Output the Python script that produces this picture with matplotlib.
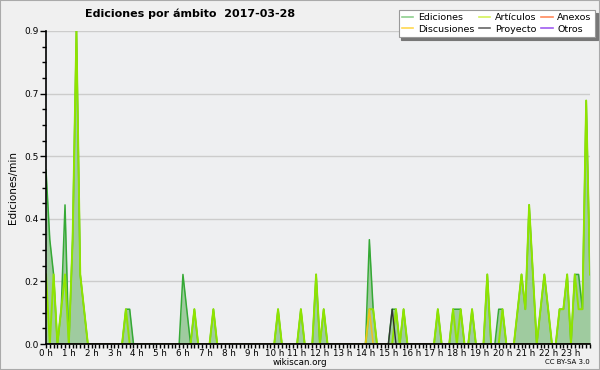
import matplotlib
matplotlib.use("Agg")
import matplotlib.pyplot as plt
from matplotlib.lines import Line2D
import numpy as np

# 10-minute bins (edits per minute)
ediciones = [
    0.5, 0.3, 0.2, 0.0, 0.1, 0.4,   # 0 h
    0.0, 0.3, 0.9, 0.2, 0.1, 0.0,   # 1 h
    0.0, 0.0, 0.0, 0.0, 0.0, 0.0,   # 2 h
    0.0, 0.0, 0.0, 0.1, 0.1, 0.0,   # 3 h
    0.0, 0.0, 0.0, 0.0, 0.0, 0.0,   # 4 h
    0.0, 0.0, 0.0, 0.0, 0.0, 0.0,   # 5 h
    0.2, 0.1, 0.0, 0.1, 0.0, 0.0,   # 6 h
    0.0, 0.0, 0.1, 0.0, 0.0, 0.0,   # 7 h
    0.0, 0.0, 0.0, 0.0, 0.0, 0.0,   # 8 h
    0.0, 0.0, 0.0, 0.0, 0.0, 0.0,   # 9 h
    0.0, 0.1, 0.0, 0.0, 0.0, 0.0,   # 10 h
    0.0, 0.1, 0.0, 0.0, 0.0, 0.2,   # 11 h
    0.0, 0.1, 0.0, 0.0, 0.0, 0.0,   # 12 h
    0.0, 0.0, 0.0, 0.0, 0.0, 0.0,   # 13 h
    0.0, 0.3, 0.1, 0.0, 0.0, 0.0,   # 14 h
    0.0, 0.1, 0.1, 0.0, 0.1, 0.0,   # 15 h
    0.0, 0.0, 0.0, 0.0, 0.0, 0.0,   # 16 h
    0.0, 0.1, 0.0, 0.0, 0.0, 0.1,   # 17 h
    0.1, 0.1, 0.0, 0.0, 0.1, 0.0,   # 18 h
    0.0, 0.0, 0.2, 0.0, 0.0, 0.1,   # 19 h
    0.1, 0.0, 0.0, 0.0, 0.1, 0.2,   # 20 h
    0.1, 0.4, 0.2, 0.0, 0.1, 0.2,   # 21 h
    0.1, 0.0, 0.0, 0.1, 0.1, 0.2,   # 22 h
    0.0, 0.2, 0.2, 0.1, 0.7, 0.2,   # 23 h
]
articulos = [
    0.2, 0.0, 0.2, 0.0, 0.1, 0.2,
    0.0, 0.3, 0.9, 0.2, 0.1, 0.0,
    0.0, 0.0, 0.0, 0.0, 0.0, 0.0,
    0.0, 0.0, 0.0, 0.1, 0.0, 0.0,
    0.0, 0.0, 0.0, 0.0, 0.0, 0.0,
    0.0, 0.0, 0.0, 0.0, 0.0, 0.0,
    0.0, 0.0, 0.0, 0.1, 0.0, 0.0,
    0.0, 0.0, 0.1, 0.0, 0.0, 0.0,
    0.0, 0.0, 0.0, 0.0, 0.0, 0.0,
    0.0, 0.0, 0.0, 0.0, 0.0, 0.0,
    0.0, 0.1, 0.0, 0.0, 0.0, 0.0,
    0.0, 0.1, 0.0, 0.0, 0.0, 0.2,
    0.0, 0.1, 0.0, 0.0, 0.0, 0.0,
    0.0, 0.0, 0.0, 0.0, 0.0, 0.0,
    0.0, 0.1, 0.1, 0.0, 0.0, 0.0,
    0.0, 0.0, 0.1, 0.0, 0.1, 0.0,
    0.0, 0.0, 0.0, 0.0, 0.0, 0.0,
    0.0, 0.1, 0.0, 0.0, 0.0, 0.1,
    0.0, 0.1, 0.0, 0.0, 0.1, 0.0,
    0.0, 0.0, 0.2, 0.0, 0.0, 0.0,
    0.1, 0.0, 0.0, 0.0, 0.1, 0.2,
    0.1, 0.4, 0.2, 0.0, 0.1, 0.2,
    0.1, 0.0, 0.0, 0.1, 0.1, 0.2,
    0.0, 0.2, 0.1, 0.1, 0.7, 0.2,
]
discusiones = [0.0] * 85 + [0.1] + [0.0] * 58
proyecto = [0.0] * 91 + [0.1] + [0.0] * 52
anexos = [0.0] * 144
otros = [0.0] * 144

series_names = ["Ediciones", "Discusiones", "Artículos", "Proyecto", "Anexos", "Otros"]
legend_colors = ["#8fd08f", "#ffd850", "#d4f25a", "#666666", "#ff8a5c", "#a05cf0"]
hour_labels = [f"{h} h" for h in range(24)]
y_ticks = [0.0, 0.18, 0.36, 0.54, 0.72, 0.9]
y_tick_labels = ["0.0", "0.2", "0.4", "0.5", "0.7", "0.9"]

x = np.arange(len(ediciones)) / 6.0

fig = plt.figure(figsize=(6.0, 3.7), dpi=100, facecolor="#f0f0f0")
ax = fig.add_axes([46/600, 26/370, 544/600, 313/370])
ax.set_facecolor("#eeeff1")

ax.fill_between(x, 0, ediciones, color="#9fcb9f", lw=0, zorder=2)
ax.plot(x, ediciones, color="#35a935", lw=1.1, zorder=3)
ax.plot(x, anexos, color="#ff7040", lw=1.0, zorder=3.5)
ax.plot(x, otros, color="#9040f0", lw=1.0, zorder=3.5)
ax.plot(x, articulos, color="#8fe400", lw=1.4, zorder=4)
ax.plot(x, discusiones, color="#f0c020", lw=1.1, zorder=5)
ax.plot(x, proyecto, color="#333333", lw=1.0, zorder=5)

ax.set_xlim(0, x[-1])
ax.set_ylim(0, 0.9)
ax.set_xticks(np.arange(24))
ax.set_xticklabels(hour_labels, fontsize=6.3)
ax.set_xticks(np.arange(0, x[-1] + 0.01, 1/6), minor=True)
ax.set_yticks(y_ticks)
ax.set_yticklabels(y_tick_labels, fontsize=6.5)
ax.set_yticks(np.arange(0, 0.9001, 0.045), minor=True)
ax.tick_params(axis="both", which="both", direction="out", length=3, width=1, pad=1.5, color="black")
ax.tick_params(axis="x", which="major", pad=0.5)
ax.tick_params(axis="y", which="major", length=4)
ax.grid(axis="y", which="major", color="#cccccc", lw=1, zorder=1)
for s in ["top", "right"]:
    ax.spines[s].set_visible(False)
for s in ["left", "bottom"]:
    ax.spines[s].set_color("black")
    ax.spines[s].set_linewidth(1.2)
    ax.spines[s].set_zorder(6)

ax.set_ylabel("Ediciones/min", fontsize=7.5, labelpad=4)

fig.text(85/600, 1 - 14/370, "Ediciones por ámbito  2017-03-28", fontsize=8,
         fontweight="bold", ha="left", va="center")
fig.text(300/600, 1 - 362.5/370, "wikiscan.org", fontsize=6.3, ha="center", va="center")
fig.text(590/600, 1 - 362.5/370, "CC BY-SA 3.0", fontsize=5, ha="right", va="center")

handles = [Line2D([0], [0], color=c, lw=1.2) for c in legend_colors]
leg = fig.legend(handles, series_names, ncol=3, loc="upper right",
                 bbox_to_anchor=(595/600, 1 - 10/370), fontsize=6.8,
                 frameon=True, fancybox=False, shadow={"color": "#777777", "alpha": 1},
                 handlelength=1.2, handletextpad=0.5, columnspacing=0.5,
                 labelspacing=0.25, borderpad=0.35, borderaxespad=0)
leg.get_frame().set_facecolor("white")
leg.get_frame().set_edgecolor("#999999")
leg.get_frame().set_linewidth(0.8)

fig.patches.append(plt.Rectangle((0, 0), 1, 1, transform=fig.transFigure,
                                 fill=False, edgecolor="#aaaaaa", lw=1.5))

fig.savefig("out.png", dpi=100, facecolor=fig.get_facecolor())
